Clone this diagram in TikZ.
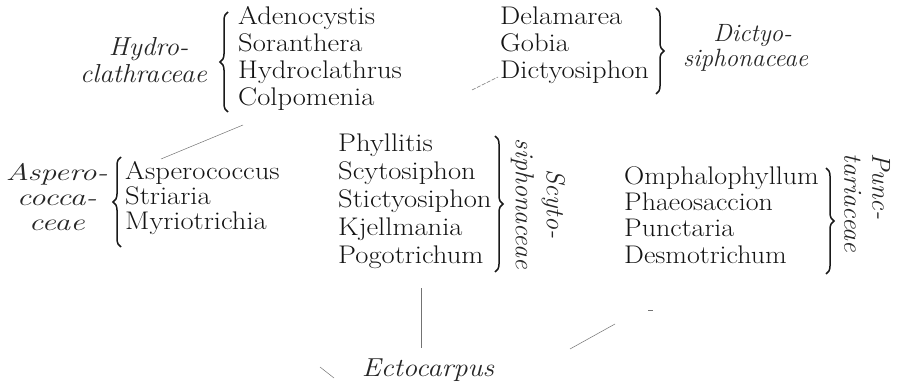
\documentclass[tikz,border=0pt]{standalone}
\usepackage{fontspec}
\usetikzlibrary{decorations.pathreplacing}
\tikzset{
  genus/.style={inner sep=0pt, align=left, anchor=base west, xscale=1.12,
    text=black!92},
  family/.style={inner sep=0pt, text=black!85},
  lbrace/.style={decorate, decoration={brace, amplitude=8pt}, line width=1.5pt, black!90},
  link/.style={draw=black!55, line width=0.5pt}
}
\begin{document}
\begin{tikzpicture}[x=1pt,y=-1pt]
\useasboundingbox (0,0) rectangle (902,385);
% genus lists (anchored at the baseline of the last line)
\node[genus, font=\fontsize{25.5}{27}\selectfont] (hyd) at (238,106) {Adenocystis\\Soranthera\\Hydroclathrus\\Colpomenia};
\node[genus, font=\fontsize{25.5}{27}\selectfont] (dic) at (500,79) {Delamarea\\Gobia\\Dictyosiphon};
\node[genus, font=\fontsize{25.5}{25}\selectfont] (asp) at (125,229) {Asperococcus\\Striaria\\Myriotrichia};
\node[genus, font=\fontsize{25.5}{28}\selectfont] (scy) at (338,263) {Phyllitis\\Scytosiphon\\Stictyosiphon\\Kjellmania\\Pogotrichum};
\node[genus, font=\fontsize{25.5}{26.3}\selectfont, xscale=0.98] (pun) at (624,263) {Omphalophyllum\\Phaeosaccion\\Punctaria\\Desmotrichum};
% braces
\draw[lbrace] (228,112) -- (228,12);
\draw[lbrace] (656,8) -- (656,94);
\draw[lbrace] (121,247) -- (121,157);
\draw[lbrace] (495,136) -- (495,272);
\draw[lbrace] (826,168) -- (826,274);
% family labels
\node[family, font=\fontsize{26}{27}\selectfont\itshape, xscale=1.05, align=center, anchor=east] (fhyd) at (207,60) {\hspace*{10pt}Hydro-\\clathraceae};
\node[family, font=\fontsize{25}{25}\selectfont\itshape, align=center, anchor=west] (fdic) at (683,48) {\hspace*{14pt}Dictyo-\\siphonaceae};
\node[family, font=\fontsize{24}{25}\selectfont\itshape, xscale=1.33, align=center, anchor=east] (fasp) at (108,197) {Aspero-\\cocca-\\ceae};
\node[family, font=\fontsize{26}{31}\selectfont\itshape, align=center, rotate=-90] (fscy) at (538,204) {Scyto-\\siphonaceae};
\node[family, font=\fontsize{26}{28}\selectfont\itshape, align=left, rotate=-90] (fpun) at (867,203) {Punc-\\tariaceae};
\node[family, font=\fontsize{26}{26}\selectfont\itshape, xscale=1.1] (ecto) at (428,370) {Ectocarpus};
% connector ends
\coordinate (c1a) at (243,125); \coordinate (c1b) at (161,159);
\coordinate (c2a) at (472,90);  \coordinate (c2b) at (498,77);
\coordinate (c3a) at (421,288); \coordinate (c3b) at (421,348);
\coordinate (c4a) at (320,367); \coordinate (c4b) at (334,378);
\coordinate (c5a) at (570,349); \coordinate (c5b) at (615,324);
\coordinate (c6a) at (648,310); \coordinate (c6b) at (653,310);
\draw[link] (c1a) -- (c1b);
\draw[link, dash pattern=on 4pt off 1.5pt] (c2a) -- (c2b);
\draw[link] (c3a) -- (c3b);
\draw[link] (c4a) -- (c4b);
\draw[link] (c5a) -- (c5b);
\draw[link] (c6a) -- (c6b);
\end{tikzpicture}
\end{document}
